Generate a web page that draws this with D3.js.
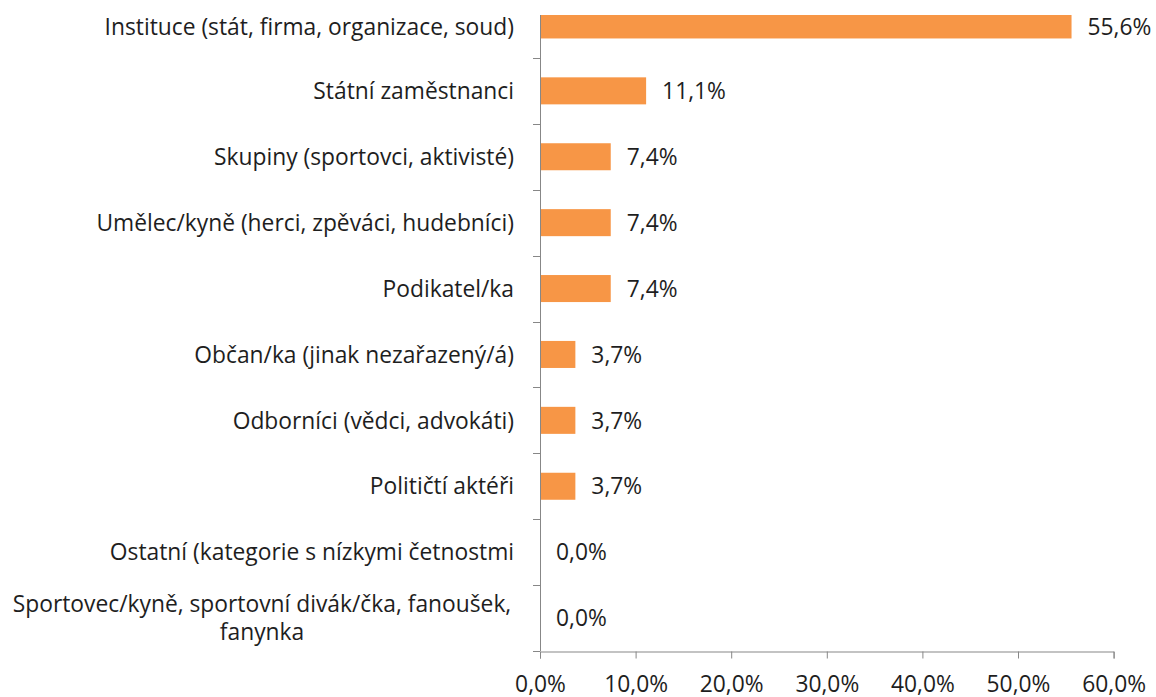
<!DOCTYPE html>
<html>
<head>
<meta charset="utf-8">
<script src="https://cdn.jsdelivr.net/npm/d3@7"></script>
<style>
  body { margin: 0; background: #fff; }
  svg { display: block; }
</style>
</head>
<body>
<div id="chart"></div>
<script>
// categories (top to bottom), values in %
const categories = [
  ["Instituce (stát, firma, organizace, soud)"],
  ["Státní zaměstnanci"],
  ["Skupiny (sportovci, aktivisté)"],
  ["Umělec/kyně (herci, zpěváci, hudebníci)"],
  ["Podikatel/ka"],
  ["Občan/ka (jinak nezařazený/á)"],
  ["Odborníci (vědci, advokáti)"],
  ["Političtí aktéři"],
  ["Ostatní (kategorie s nízkymi četnostmi"],
  ["Sportovec/kyně, sportovní divák/čka, fanoušek,", "fanynka"]
];
const values = [55.6, 11.1, 7.4, 7.4, 7.4, 3.7, 3.7, 3.7, 0.0, 0.0];
const xTicks = [0, 10, 20, 30, 40, 50, 60];

const W = 1156, H = 697;
const font = "Open Sans, sans-serif";
const fs = 22.8;
const fmt = v => v.toFixed(1).replace(".", ",") + "%";

const svg = d3.select("#chart").append("svg")
  .attr("width", W).attr("height", H);

const x = d3.scaleLinear().domain([0, 60]).range([540, 1113.6]);
const y = d3.scaleBand()
  .domain(d3.range(categories.length))
  .range([-8, 651])
  .paddingInner(0.59).paddingOuter(0.295);

const plotTop = 15;

svg.append("defs").append("clipPath").attr("id", "clip")
  .append("rect").attr("x", 0).attr("y", plotTop).attr("width", W).attr("height", 651 - plotTop);

// bars
svg.append("g").attr("clip-path", "url(#clip)")
  .selectAll("rect")
  .data(values)
  .join("rect")
  .attr("x", x(0))
  .attr("y", (d, i) => y(i))
  .attr("width", d => x(d) - x(0))
  .attr("height", y.bandwidth())
  .attr("fill", "#F79646");

const rowY = i => Math.max(y(i) + y.bandwidth() / 2, 27);

// value labels
svg.append("g")
  .selectAll("text")
  .data(values)
  .join("text")
  .attr("x", d => x(d) + 16)
  .attr("y", (d, i) => rowY(i))
  .attr("dy", "0.36em")
  .attr("font-family", font)
  .attr("font-size", fs)
  .attr("fill", "#1e1e1e")
  .text(fmt);

// y axis line + ticks at band boundaries
const gy = svg.append("g").attr("stroke", "#878787").attr("stroke-width", 1);
gy.append("line").attr("x1", 540.5).attr("x2", 540.5).attr("y1", plotTop).attr("y2", 651);
d3.range(1, categories.length + 1).forEach(i => {
  const yy = Math.round(-8 + i * (659 / categories.length)) + 0.5;
  gy.append("line").attr("x1", 533).attr("x2", 540).attr("y1", yy).attr("y2", yy);
});

// category labels
const labels = svg.append("g")
  .selectAll("text")
  .data(categories)
  .join("text")
  .attr("font-family", font)
  .attr("font-size", fs)
  .attr("fill", "#1e1e1e")
  .attr("text-anchor", "end")
  .attr("x", 514)
  .attr("y", (d, i) => rowY(i));

labels.each(function(lines) {
  const t = d3.select(this);
  if (lines.length === 1) {
    t.append("tspan").attr("dy", "0.36em").text(lines[0]);
  } else {
    t.attr("text-anchor", "middle");
    t.append("tspan").attr("x", 262).attr("dy", "-0.25em").text(lines[0]);
    t.append("tspan").attr("x", 262).attr("dy", "1.2em").text(lines[1]);
  }
});

// x axis
const gx = svg.append("g").attr("transform", "translate(0,651.5)")
  .call(d3.axisBottom(x).tickValues(xTicks).tickSize(7).tickPadding(17).tickFormat(d => fmt(d)));
gx.select(".domain").attr("stroke", "#878787");
gx.selectAll(".tick line").attr("stroke", "#878787");
gx.selectAll(".tick text")
  .attr("font-family", font)
  .attr("font-size", fs)
  .attr("fill", "#1e1e1e");
</script>
</body>
</html>
